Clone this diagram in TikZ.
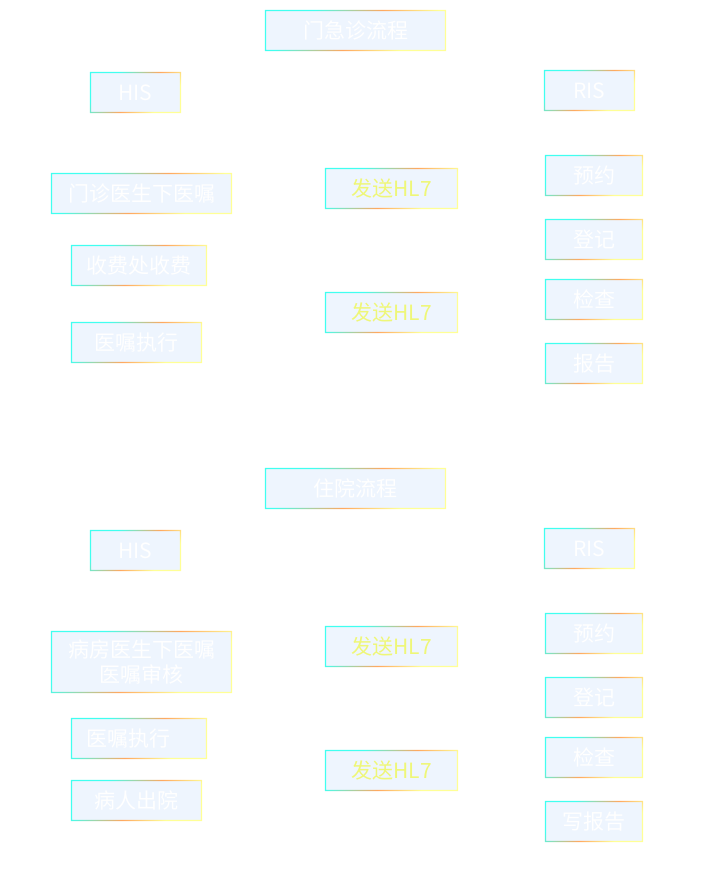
\documentclass[tikz,border=0pt]{standalone}
\usepackage{fontspec}
\setmainfont{Noto Sans CJK SC}
\definecolor{boxfill}{RGB}{238,245,254}
\definecolor{bcyan}{RGB}{64,255,240}
\definecolor{borange}{RGB}{255,168,96}
\definecolor{byellow}{RGB}{255,255,150}
\definecolor{hltext}{RGB}{238,247,120}
\pgfdeclarehorizontalshading{bordershade}{100bp}{color(0bp)=(bcyan); color(30bp)=(bcyan); color(52bp)=(borange); color(70bp)=(byellow); color(100bp)=(byellow)}
\tikzset{
  gbox/.style={rectangle, fill=boxfill, inner sep=0pt, text=white,
    font=\fontsize{21pt}{25pt}\selectfont, align=center},
  hlbox/.style={gbox, text=hltext},
}
\newcommand{\gframe}[1]{%
  \shade[shading=bordershade, shading angle=-45, even odd rule]
    (#1.north west) rectangle (#1.south east)
    ([shift={(1.4pt,-1.4pt)}]#1.north west) rectangle ([shift={(-1.4pt,1.4pt)}]#1.south east);}
\begin{document}
\begin{tikzpicture}[x=1pt,y=-1pt]
\useasboundingbox (0,0) rectangle (704,877);
% ---------- part 1 ----------
\node[gbox, minimum width=181pt, minimum height=41pt] (t1) at (355.5,30.5) {门急诊流程};
\node[gbox, minimum width=91pt, minimum height=41pt] (his1) at (135.5,92.5) {HIS};
\node[gbox, minimum width=91pt, minimum height=41pt] (ris1) at (589.5,90.5) {RIS};
\node[gbox, minimum width=181pt, minimum height=41pt] (a1) at (141.5,193.5) {门诊医生下医嘱};
\node[gbox, minimum width=136pt, minimum height=41pt] (a2) at (139,265.5) {收费处收费};
\node[gbox, minimum width=131pt, minimum height=41pt] (a3) at (136.5,342.5) {医嘱执行};
\node[hlbox, minimum width=133pt, minimum height=41pt] (h1) at (391.5,188.5) {发送HL7};
\node[hlbox, minimum width=133pt, minimum height=41pt] (h2) at (391.5,312.5) {发送HL7};
\node[gbox, minimum width=98pt, minimum height=41pt] (r1) at (594,175.5) {预约};
\node[gbox, minimum width=98pt, minimum height=41pt] (r2) at (594,239.5) {登记};
\node[gbox, minimum width=98pt, minimum height=41pt] (r3) at (594,299.5) {检查};
\node[gbox, minimum width=98pt, minimum height=41pt] (r4) at (594,363.5) {报告};
% ---------- part 2 ----------
\node[gbox, minimum width=181pt, minimum height=41pt] (t2) at (355.5,488.5) {住院流程};
\node[gbox, minimum width=91pt, minimum height=41pt] (his2) at (135.5,550.5) {HIS};
\node[gbox, minimum width=91pt, minimum height=41pt] (ris2) at (589.5,548.5) {RIS};
\node[gbox, minimum width=181pt, minimum height=62pt] (b1) at (141.5,662) {病房医生下医嘱\\医嘱审核};
\node[gbox, minimum width=136pt, minimum height=41pt] (b2) at (139,738.5) {医嘱执行\hspace*{22pt}};
\node[gbox, minimum width=131pt, minimum height=41pt] (b3) at (136.5,800.5) {病人出院};
\node[hlbox, minimum width=133pt, minimum height=41pt] (h3) at (391.5,646.5) {发送HL7};
\node[hlbox, minimum width=133pt, minimum height=41pt] (h4) at (391.5,770.5) {发送HL7};
\node[gbox, minimum width=98pt, minimum height=41pt] (s1) at (594,633.5) {预约};
\node[gbox, minimum width=98pt, minimum height=41pt] (s2) at (594,697.5) {登记};
\node[gbox, minimum width=98pt, minimum height=41pt] (s3) at (594,757.5) {检查};
\node[gbox, minimum width=98pt, minimum height=41pt] (s4) at (594,821.5) {写报告};
\foreach \n in {t1,his1,ris1,a1,a2,a3,h1,h2,r1,r2,r3,r4,t2,his2,ris2,b1,b2,b3,h3,h4,s1,s2,s3,s4}{\gframe{\n}}
\end{tikzpicture}
\end{document}
